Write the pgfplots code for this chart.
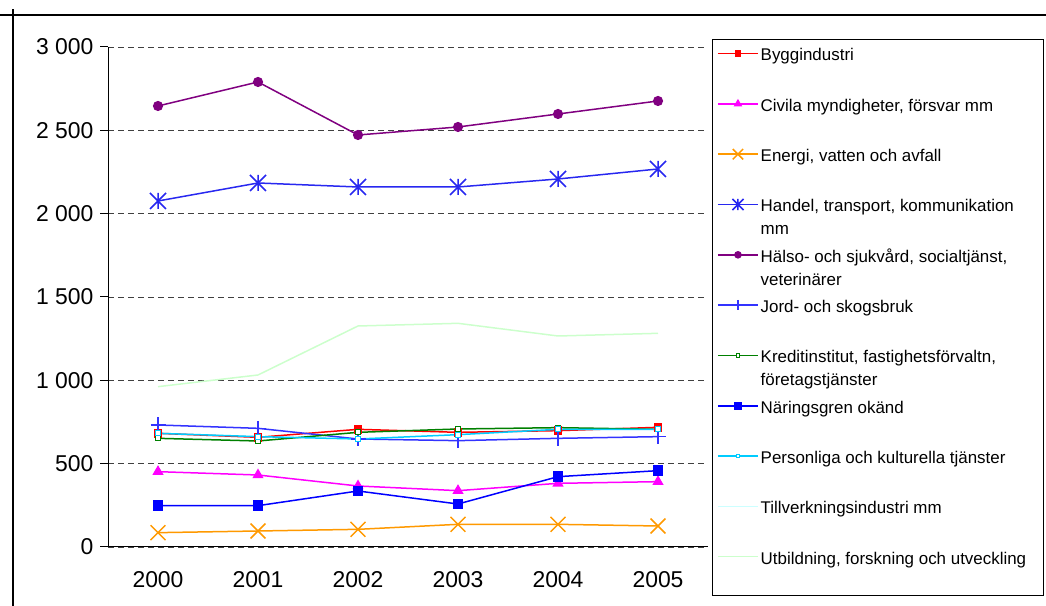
\documentclass[border=0pt]{standalone}
\usepackage{pgfplots}
\pgfplotsset{compat=1.18}
\usepackage{fontspec}
\setmainfont{Liberation Sans}

\definecolor{bygg}{RGB}{255,0,0}
\definecolor{civila}{RGB}{255,0,255}
\definecolor{energi}{RGB}{255,153,0}
\definecolor{handel}{RGB}{40,40,240}
\definecolor{halso}{RGB}{128,0,128}
\definecolor{jord}{RGB}{51,51,255}
\definecolor{kredit}{RGB}{0,128,0}
\definecolor{naring}{RGB}{0,0,255}
\definecolor{person}{RGB}{0,204,255}
\definecolor{tillv}{RGB}{204,255,255}
\definecolor{utb}{RGB}{204,255,204}

% Excel-style star: an x with a vertical bar
\pgfdeclareplotmark{xstar}{%
  \pgfpathmoveto{\pgfqpoint{-\pgfplotmarksize}{-\pgfplotmarksize}}%
  \pgfpathlineto{\pgfqpoint{\pgfplotmarksize}{\pgfplotmarksize}}%
  \pgfpathmoveto{\pgfqpoint{-\pgfplotmarksize}{\pgfplotmarksize}}%
  \pgfpathlineto{\pgfqpoint{\pgfplotmarksize}{-\pgfplotmarksize}}%
  \pgfpathmoveto{\pgfqpoint{0pt}{-\pgfplotmarksize}}%
  \pgfpathlineto{\pgfqpoint{0pt}{\pgfplotmarksize}}%
  \pgfusepathqstroke}

% legend text, may wrap to a second line
\newcommand{\legtxt}[1]{\parbox[t]{290bp}{\strut #1}}

\begin{document}
\begin{tikzpicture}[x=1bp,y=1bp]
\useasboundingbox (0,0) rectangle (1046,606);
\draw[line width=1.5bp] (0,591) -- (1046,591);
\draw[line width=1.5bp] (13,0) -- (13,597);
% legend frame
\draw[line width=1bp] (712,566) rectangle (1043,10);
\begin{axis}[
    at={(108bp,59bp)}, anchor=south west,
    scale only axis,
    width=600bp, height=500bp,
    xmin=-0.5, xmax=5.5,
    ymin=0, ymax=3000,
    axis lines*=left,
    axis line style={black, line width=1bp},
    xtick={0,1,2,3,4,5},
    xticklabels={2000,2001,2002,2003,2004,2005},
    minor xtick={-0.5,0.5,1.5,2.5,3.5,4.5,5.5},
    ytick={0,500,1000,1500,2000,2500,3000},
    tick align=outside,
    major tick length=8bp,
    minor tick length=8bp,
    xtick style={draw=none},
    minor x tick style={black, line width=1bp},
    y tick style={black, line width=1bp},
    ymajorgrids,
    major grid style={dash pattern=on 6bp off 4bp, black!75, line width=0.8bp},
    tick label style={font=\fontsize{23}{27}\selectfont},
    xticklabel style={yshift=-13bp},
    yticklabel style={xshift=-3bp},
    /pgf/number format/.cd, 1000 sep={\ }, assume math mode=true,
    /pgfplots/.cd,
    legend style={
        at={(rel axis cs:1.0067,1.018)}, anchor=north west,
        draw=none, fill=none,
        inner xsep=5bp, inner ysep=4.6bp,
        row sep=28.8bp,
        font=\fontsize{17}{23}\selectfont,
        /tikz/every even column/.append style={column sep=4bp},
    },
    legend cell align=left,
    legend image code/.code={
        \draw[#1, mark=none, line width=1.5bp] (0bp,0bp) -- (40bp,0bp);
        \draw[#1, only marks, every mark/.append style={scale=0.7}]
            plot coordinates {(20bp,0bp)};},
    every axis plot/.append style={line width=1.5bp},
]

\addplot[bygg, mark=square*, mark size=3.5bp, mark options={fill=bygg}]
    coordinates {(0,682) (1,658) (2,706) (3,688) (4,698) (5,718)};
\addlegendentry{\legtxt{Byggindustri}}

\addplot[civila, mark=triangle*, mark size=5bp, mark options={fill=civila}]
    coordinates {(0,452) (1,432) (2,366) (3,338) (4,382) (5,392)};
\addlegendentry{\legtxt{Civila myndigheter, försvar mm}}

\addplot[energi, mark=x, mark size=10.5bp]
    coordinates {(0,86) (1,96) (2,106) (3,136) (4,136) (5,126)};
\addlegendentry{\legtxt{Energi, vatten och avfall}}

\addplot[handel, mark=xstar, mark size=8bp]
    coordinates {(0,2076) (1,2184) (2,2160) (3,2160) (4,2208) (5,2268)};
\addlegendentry{\legtxt{Handel, transport, kommunikation\\mm}}

\addplot[halso, mark=*, mark size=4.3bp, mark options={fill=halso}]
    coordinates {(0,2646) (1,2790) (2,2472) (3,2520) (4,2598) (5,2676)};
\addlegendentry{\legtxt{Hälso- och sjukvård, socialtjänst,\\veterinärer}}

\addplot[jord, mark=+, mark size=7.5bp]
    coordinates {(0,732) (1,712) (2,648) (3,638) (4,652) (5,662)};
\addlegendentry{\legtxt{Jord- och skogsbruk}}

\addplot[kredit, mark=square*, mark size=2.5bp, mark options={fill=white, line width=1bp}]
    coordinates {(0,652) (1,636) (2,688) (3,708) (4,716) (5,706)};
\addlegendentry{\legtxt{Kreditinstitut, fastighetsförvaltn,\\företagstjänster}}

\addplot[naring, mark=square*, mark size=4.5bp, mark options={fill=naring}]
    coordinates {(0,248) (1,248) (2,336) (3,258) (4,422) (5,458)};
\addlegendentry{\legtxt{Näringsgren okänd}}

\addplot[person, mark=square*, mark size=2.5bp, mark options={fill=white, line width=1bp}]
    coordinates {(0,682) (1,662) (2,648) (3,674) (4,706) (5,706)};
\addlegendentry{\legtxt{Personliga och kulturella tjänster}}

\addlegendimage{tillv, line width=1.5bp}
\addlegendentry{\legtxt{Tillverkningsindustri mm}}

\addplot[utb, no marks]
    coordinates {(0,962) (1,1032) (2,1326) (3,1342) (4,1266) (5,1282)};
\addlegendentry{\legtxt{Utbildning, forskning och utveckling}}

\end{axis}
\end{tikzpicture}
\end{document}
